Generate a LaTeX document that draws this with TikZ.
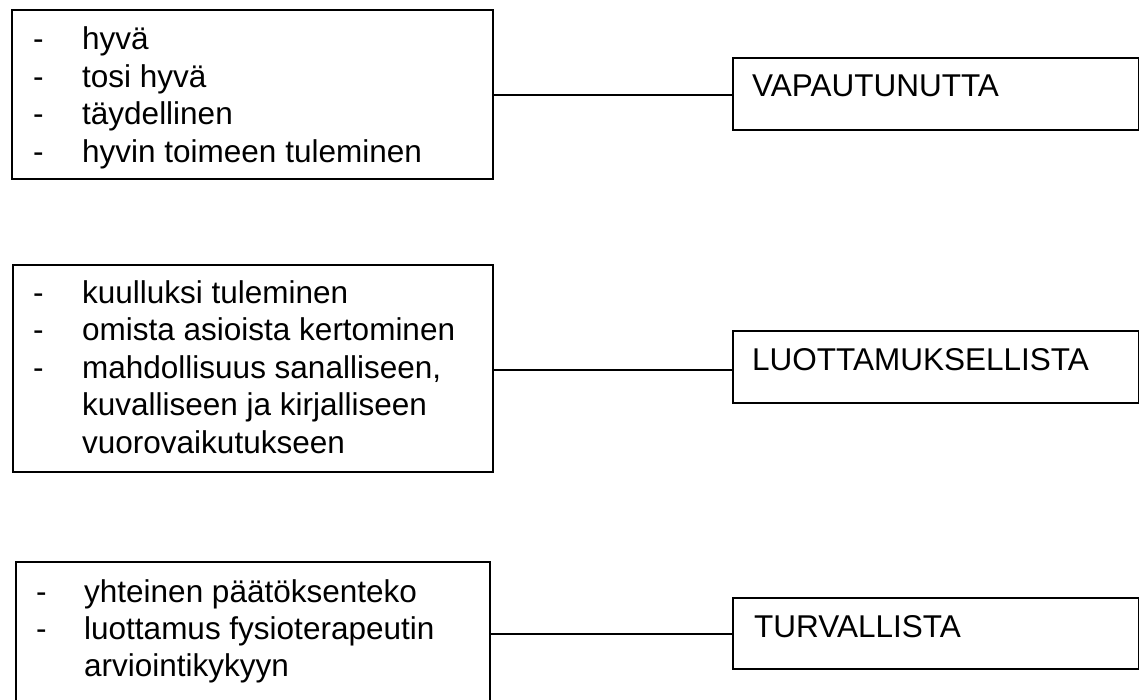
\documentclass[tikz,border=0pt]{standalone}
\usepackage{fontspec}
\setmainfont{Liberation Sans}
\begin{document}
\begin{tikzpicture}[x=1pt,y=-1pt,
  box/.style={draw, line width=2pt, rectangle, inner sep=0pt, anchor=north west},
  txt/.style={inner sep=0pt, anchor=base west, font=\fontsize{31.5}{37.5}\selectfont},
  conn/.style={line width=2pt}]
\clip (0,0) rectangle (1139,700);
\fill[white] (0,0) rectangle (1139,700);
% left boxes
\node[box, minimum width=481pt, minimum height=169pt] (b1) at (11,9) {};
\node[box, minimum width=480pt, minimum height=207pt] (b2) at (12,264) {};
\node[box, minimum width=474pt, minimum height=170pt] (b3) at (15,561) {};
% right boxes
\node[box, minimum width=406pt, minimum height=72pt] (r1) at (732,57) {};
\node[box, minimum width=406pt, minimum height=72pt] (r2) at (732,330) {};
\node[box, minimum width=406pt, minimum height=71pt] (r3) at (732,597) {};
% box 1 text
\node[txt] (d11) at (33,50) {-};
\node[txt] (t11) at (82,50) {hyvä};
\node[txt] (d12) at (33,87.5) {-};
\node[txt] (t12) at (82,87.5) {tosi hyvä};
\node[txt] (d13) at (33,125) {-};
\node[txt] (t13) at (82,125) {täydellinen};
\node[txt] (d14) at (33,162.5) {-};
\node[txt] (t14) at (82,162.5) {hyvin toimeen tuleminen};
% box 2 text
\node[txt] (d21) at (33,303) {-};
\node[txt] (t21) at (82,303) {kuulluksi tuleminen};
\node[txt] (d22) at (33,340.5) {-};
\node[txt] (t22) at (82,340.5) {omista asioista kertominen};
\node[txt] (d23) at (33,378) {-};
\node[txt] (t23) at (82,378) {mahdollisuus sanalliseen,};
\node[txt] (t24) at (82,415.5) {kuvalliseen ja kirjalliseen};
\node[txt] (t25) at (82,453) {vuorovaikutukseen};
% box 3 text
\node[txt] (d31) at (36,602) {-};
\node[txt] (t31) at (84,602) {yhteinen päätöksenteko};
\node[txt] (d32) at (36,639) {-};
\node[txt] (t32) at (84,639) {luottamus fysioterapeutin};
\node[txt] (t33) at (84,676) {arviointikykyyn};
% right box text
\node[txt] (v1) at (752,97) {VAPAUTUNUTTA};
\node[txt] (v2) at (752,370) {LUOTTAMUKSELLISTA};
\node[txt] (v3) at (754,637) {TURVALLISTA};
% connectors
\coordinate (y1) at (0,95);
\coordinate (y2) at (0,370);
\coordinate (y3) at (0,634);
\draw[conn] (b1.east |- y1) -- (r1.west |- y1);
\draw[conn] (b2.east |- y2) -- (r2.west |- y2);
\draw[conn] (b3.east |- y3) -- (r3.west |- y3);
\end{tikzpicture}
\end{document}
